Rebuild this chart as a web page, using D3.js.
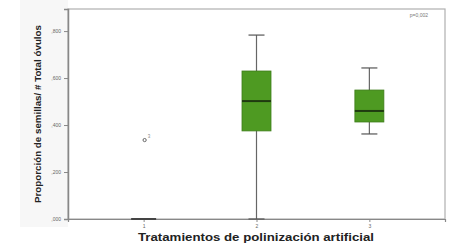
<!DOCTYPE html>
<html>
<head>
<meta charset="utf-8">
<script src="https://cdn.jsdelivr.net/npm/d3@7"></script>
<style>
  body { margin: 0; background: #fff; }
  svg { display: block; font-family: "Liberation Sans", Arial, sans-serif; }
</style>
</head>
<body>
<div class="container"></div>
<script>
// DATA
const categories = ["1", "2", "3"];
const whiskerLow = [0, 0, 0.362];
const q1 = [0, 0.375, 0.413];
const median = [0, 0.502, 0.46];
const q3 = [0, 0.63, 0.549];
const whiskerHigh = [0, 0.783, 0.643];
const outlierCat = ["1"];
const outlierValue = [0.336];
const outlierCase = ["3"];
const yTicks = [0, 0.2, 0.4, 0.6, 0.8];

// FRAME
const W = 464, H = 244;
const margin = { top: 9, right: 19, bottom: 25, left: 68 };
const width = W - margin.left - margin.right,
      height = H - margin.top - margin.bottom;

const svg = d3.select(".container")
  .append("svg")
  .attr("width", W)
  .attr("height", H);

// light grey band behind the y axis area
svg.append("rect")
  .attr("x", 20).attr("y", 0)
  .attr("width", margin.left - 20).attr("height", margin.top + height + 8)
  .attr("fill", "#f7f7f7");

const g = svg.append("g")
  .attr("transform", `translate(${margin.left}, ${margin.top})`);

// SCALES
const x = d3.scalePoint().domain(categories).range([0, width]).padding(0.67);
const y = d3.scaleLinear().domain([0, 0.894]).range([height, 0]);

// plot frame
g.append("rect")
  .attr("width", width).attr("height", height)
  .attr("fill", "#fff")
  .attr("stroke", "#b0b0b0")
  .attr("stroke-width", 1.2);

// AXES
const es = d3.formatLocale({ decimal: ",", thousands: ".", grouping: [3], currency: ["", "€"] });
const fmt = v => es.format(".3f")(v).replace(/^0/, "");

const yAxis = g.append("g")
  .call(d3.axisLeft(y).tickValues(yTicks).tickFormat(fmt).tickSize(4).tickPadding(3));
yAxis.select(".domain").attr("stroke", "#888").attr("stroke-width", 1.5);
yAxis.selectAll(".tick line").attr("stroke", "#888");
yAxis.selectAll("text").attr("font-size", 5).attr("fill", "#666");

const xAxis = g.append("g")
  .attr("transform", `translate(0, ${height})`)
  .call(d3.axisBottom(x).tickSize(3).tickPadding(2));
xAxis.select(".domain").attr("stroke", "#888").attr("stroke-width", 1.2);
xAxis.selectAll(".tick line").attr("stroke", "#888");
xAxis.selectAll("text").attr("font-size", 5).attr("fill", "#666");

// BOXES
const boxW = 29, capW = 16;
const idx = d3.range(categories.length);

g.selectAll(".whisker")
  .data(idx)
  .join("line")
  .attr("x1", i => x(categories[i])).attr("x2", i => x(categories[i]))
  .attr("y1", i => y(whiskerLow[i])).attr("y2", i => y(whiskerHigh[i]))
  .attr("stroke", "#666").attr("stroke-width", 1.2);

g.selectAll(".cap")
  .data(idx.flatMap(i => [[i, whiskerLow[i]], [i, whiskerHigh[i]]]))
  .join("line")
  .attr("x1", d => x(categories[d[0]]) - capW / 2)
  .attr("x2", d => x(categories[d[0]]) + capW / 2)
  .attr("y1", d => y(d[1])).attr("y2", d => y(d[1]))
  .attr("stroke", "#555").attr("stroke-width", 1.2);

g.selectAll(".box")
  .data(idx.filter(i => q3[i] > q1[i]))
  .join("rect")
  .attr("x", i => x(categories[i]) - boxW / 2)
  .attr("y", i => y(q3[i]))
  .attr("width", boxW)
  .attr("height", i => y(q1[i]) - y(q3[i]))
  .attr("fill", "#4e9a22")
  .attr("stroke", "#3e7d1a").attr("stroke-width", 0.8);

g.selectAll(".median")
  .data(idx)
  .join("line")
  .attr("x1", i => x(categories[i]) - boxW / 2 + (q3[i] > q1[i] ? 0 : 2))
  .attr("x2", i => x(categories[i]) + boxW / 2 - (q3[i] > q1[i] ? 0 : 2))
  .attr("y1", i => y(median[i])).attr("y2", i => y(median[i]))
  .attr("stroke", i => q3[i] > q1[i] ? "#1f3a10" : "#444").attr("stroke-width", 2);

// OUTLIERS
g.selectAll(".outlier")
  .data(d3.range(outlierCat.length))
  .join("circle")
  .attr("cx", i => x(outlierCat[i]) + 1)
  .attr("cy", i => y(outlierValue[i]))
  .attr("r", 1.6)
  .attr("fill", "none").attr("stroke", "#666").attr("stroke-width", 1);

g.selectAll(".outlierLabel")
  .data(d3.range(outlierCat.length))
  .join("text")
  .attr("x", i => x(outlierCat[i]) + 4)
  .attr("y", i => y(outlierValue[i]) - 2)
  .attr("font-size", 4.5).attr("fill", "#888")
  .text(i => outlierCase[i]);

// annotation
g.append("text")
  .attr("x", width - 17).attr("y", 8)
  .attr("text-anchor", "end")
  .attr("font-size", 5).attr("fill", "#777")
  .text("p=0,002");

// TITLES
svg.append("text")
  .attr("transform", `translate(41, ${margin.top + height / 2}) rotate(-90)`)
  .attr("text-anchor", "middle")
  .attr("font-size", 8.8).attr("font-weight", "bold").attr("fill", "#222")
  .attr("textLength", 178).attr("lengthAdjust", "spacingAndGlyphs")
  .text("Proporción de semillas/ # Total óvulos");

svg.append("text")
  .attr("x", 256).attr("y", 241)
  .attr("text-anchor", "middle")
  .attr("font-size", 10.5).attr("font-weight", "bold").attr("fill", "#222")
  .attr("textLength", 236).attr("lengthAdjust", "spacingAndGlyphs")
  .text("Tratamientos de polinización artificial");
</script>
</body>
</html>
